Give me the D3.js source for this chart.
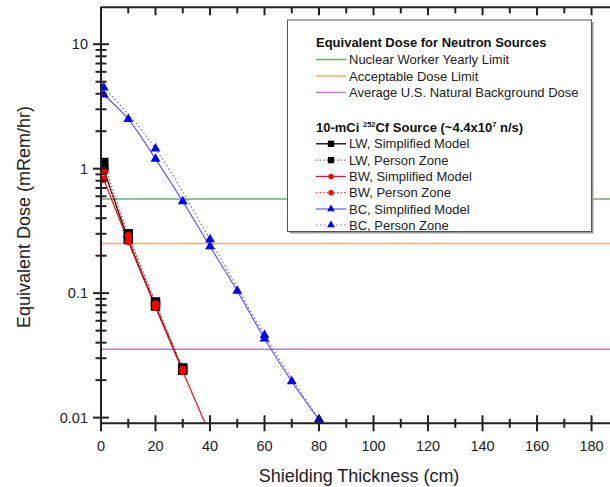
<!DOCTYPE html>
<html><head><meta charset="utf-8">
<script src="https://cdn.jsdelivr.net/npm/d3@7"></script>
<style>body{margin:0;background:#fff}svg{display:block;font-family:"Liberation Sans",Arial,sans-serif}</style>
</head><body><svg id="c" width="610" height="487"></svg>
<script>
// ---- data ----
const thicknessLW = [1, 10, 20, 30];
const lwSimplified = [1.0, 0.27, 0.079, 0.024];
const lwPersonZone = [1.12, 0.30, 0.085, 0.025];
const thicknessBW = [1, 10, 20, 30, 40];
const bwSimplified = [0.82, 0.26, 0.077, 0.0235, 0.0073];
const thicknessBWPZ = [1, 10, 20, 30];
const bwPersonZone = [0.96, 0.29, 0.082, 0.0245];
const thicknessBCS = [1, 10, 20, 30, 40, 50, 60, 70, 80];
const bcSimplified = [3.93, 2.5, 1.2, 0.546, 0.237, 0.104, 0.043, 0.0195, 0.0096];
const thicknessBCPZ = [1, 20, 40, 60, 80];
const bcPersonZone = [4.5, 1.45, 0.27, 0.046, 0.0097];
const refNames = ["Nuclear Worker Yearly Limit", "Acceptable Dose Limit", "Average U.S. Natural Background Dose"];
const refValues = [0.57, 0.25, 0.0354];
const xTicks = [0, 20, 40, 60, 80, 100, 120, 140, 160, 180];
const yTicks = [0.01, 0.1, 1, 10];
const yTickLabels = ["0.01", "0.1", "1", "10"];

const svg = d3.select("#c");
const L = 101, R = 618.8, T = 7.3, B = 423.3;
const x = d3.scaleLinear().domain([0, 190]).range([L, R]);
const y = d3.scaleLog().domain([0.009, 19.8]).range([B, T]);
const axisColor = "#222";

svg.append("defs").append("clipPath").attr("id", "clip")
  .append("rect").attr("x", L).attr("y", T).attr("width", R - L).attr("height", B - T);
const plot = svg.append("g").attr("clip-path", "url(#clip)");

// reference lines
const refColors = ["#62b862", "#ffad5c", "#c27ac9"];
refValues.forEach((v, i) => {
  plot.append("line").attr("x1", L).attr("x2", R).attr("y1", y(v)).attr("y2", y(v))
    .attr("stroke", refColors[i]).attr("stroke-width", 1.5);
});

const series = [
  {xs: thicknessLW, ys: lwSimplified, color: "#000", dash: null, marker: "square", lw: 1.3},
  {xs: thicknessLW, ys: lwPersonZone, color: "#777", mcolor: "#000", dash: "1.5,2", marker: "square", lw: 1.2},
  {xs: thicknessBW, ys: bwSimplified, color: "#e8141e", mcolor: "#ff0000", dash: null, marker: "circle", lw: 1.2},
  {xs: thicknessBWPZ, ys: bwPersonZone, color: "#ff4040", mcolor: "#ff0000", dash: "1.5,2", marker: "circle", lw: 1.2},
  {xs: thicknessBCS, ys: bcSimplified, color: "#5a5aff", mcolor: "#0000ff", dash: null, marker: "triangle", lw: 1.2},
  {xs: thicknessBCPZ, ys: bcPersonZone, color: "#6a6aff", mcolor: "#0000ff", dash: "1.5,2.5", marker: "triangle", lw: 1.2}
];
const lineGen = d3.line().x(d => x(d[0])).y(d => y(d[1])).curve(d3.curveMonotoneX);
const symSquare = d3.symbol().type(d3.symbolSquare).size(90);
const symCircle = d3.symbol().type(d3.symbolCircle).size(40);
const symTri = d3.symbol().type(d3.symbolTriangle).size(42);
function symFor(m){ return m === "square" ? symSquare : m === "circle" ? symCircle : symTri; }

series.forEach(s => {
  const pts = s.xs.map((v, i) => [v, s.ys[i]]);
  plot.append("path").attr("d", lineGen(pts)).attr("fill", "none")
    .attr("stroke", s.color).attr("stroke-width", s.lw).attr("stroke-dasharray", s.dash);
});
series.forEach(s => {
  const pts = s.xs.map((v, i) => [v, s.ys[i]]);
  plot.selectAll(null).data(pts).enter().append("path")
    .attr("d", symFor(s.marker)())
    .attr("transform", d => `translate(${x(d[0])},${y(d[1])})`)
    .attr("fill", s.mcolor || s.color);
});

// axes frame
const ax = svg.append("g").attr("stroke", axisColor).attr("stroke-width", 2);
ax.append("line").attr("x1", L).attr("x2", R + 1).attr("y1", B).attr("y2", B);
ax.append("line").attr("x1", L).attr("x2", R + 1).attr("y1", T).attr("y2", T);
ax.append("line").attr("x1", L).attr("x2", L).attr("y1", T).attr("y2", B + 1);
ax.append("line").attr("x1", R).attr("x2", R).attr("y1", T).attr("y2", B + 1);

// x ticks
const xMinor = d3.range(10, 190, 20);
xTicks.forEach(v => {
  ax.append("line").attr("x1", x(v)).attr("x2", x(v)).attr("y1", B - 8).attr("y2", B + 8);
  ax.append("line").attr("x1", x(v)).attr("x2", x(v)).attr("y1", T).attr("y2", T + 8);
});
xMinor.forEach(v => {
  ax.append("line").attr("x1", x(v)).attr("x2", x(v)).attr("y1", B - 4.5).attr("y2", B + 4.5);
  ax.append("line").attr("x1", x(v)).attr("x2", x(v)).attr("y1", T).attr("y2", T + 6);
});
// y ticks
yTicks.forEach(v => {
  ax.append("line").attr("x1", L - 8).attr("x2", L + 8).attr("y1", y(v)).attr("y2", y(v));
  ax.append("line").attr("x1", R - 8).attr("x2", R).attr("y1", y(v)).attr("y2", y(v));
});
const yMinor = [];
[0.01, 0.1, 1, 10].forEach(d => { for (let k = 2; k <= 9; k++) { const v = d * k; if (v < 19.8) yMinor.push(v); } });
yMinor.forEach(v => {
  ax.append("line").attr("x1", L - 5.5).attr("x2", L + 5.5).attr("y1", y(v)).attr("y2", y(v));
  ax.append("line").attr("x1", R - 5).attr("x2", R).attr("y1", y(v)).attr("y2", y(v));
});

// tick labels
svg.append("g").selectAll("text").data(xTicks).enter().append("text")
  .attr("x", d => x(d)).attr("y", 450.5).attr("text-anchor", "middle")
  .attr("font-size", 14.5).attr("fill", "#222").text(d => d);
svg.append("g").selectAll("text").data(yTicks).enter().append("text")
  .attr("x", 88).attr("y", d => y(d) + 5).attr("text-anchor", "end")
  .attr("font-size", 14.5).attr("fill", "#222").text((d, i) => yTickLabels[i]);

// axis titles
svg.append("text").attr("x", 359).attr("y", 482).attr("text-anchor", "middle")
  .attr("font-size", 18).attr("fill", "#222").text("Shielding Thickness (cm)");
svg.append("text").attr("transform", "translate(30,217) rotate(-90)").attr("text-anchor", "middle")
  .attr("font-size", 18).attr("fill", "#222").text("Equivalent Dose (mRem/hr)");

// legend
const lg = svg.append("g");
const bx = 287.5, by = 20, bw = 304, bh = 211.5;
lg.append("rect").attr("x", bx + 2).attr("y", by + 2).attr("width", bw).attr("height", bh).attr("fill", "#999");
lg.append("rect").attr("x", bx).attr("y", by).attr("width", bw).attr("height", bh)
  .attr("fill", "#fff").attr("stroke", "#555").attr("stroke-width", 1);
const sx0 = 316, sx1 = 346, tx = 349, fs = 13;
lg.append("text").attr("x", sx0).attr("y", 46.7).attr("font-size", fs).attr("font-weight", "bold")
  .attr("fill", "#111").text("Equivalent Dose for Neutron Sources");
const refY = [64, 80.5, 97];
refNames.forEach((n, i) => {
  lg.append("line").attr("x1", sx0).attr("x2", sx1).attr("y1", refY[i] - 4.5).attr("y2", refY[i] - 4.5)
    .attr("stroke", refColors[i]).attr("stroke-width", 1.5);
  lg.append("text").attr("x", tx).attr("y", refY[i]).attr("font-size", fs).attr("fill", "#222").text(n);
});
const t2 = lg.append("text").attr("x", sx0).attr("y", 131.7).attr("font-size", fs).attr("font-weight", "bold").attr("fill", "#111");
t2.append("tspan").text("10-mCi ");
t2.append("tspan").attr("font-size", 7.5).attr("dy", -5).text("252");
t2.append("tspan").attr("dy", 5).text("Cf Source (~4.4x10");
t2.append("tspan").attr("font-size", 7.5).attr("dy", -5).text("7");
t2.append("tspan").attr("dy", 5).text(" n/s)");
const serNames = ["LW, Simplified Model", "LW, Person Zone", "BW, Simplified Model", "BW, Person Zone", "BC, Simplified Model", "BC, Person Zone"];
const legY = [148.3, 164.6, 180.9, 197.2, 213.5, 229.5];
const legSize = {square: 40, circle: 22, triangle: 26};
series.forEach((s, i) => {
  const yy = legY[i] - 4.5;
  lg.append("line").attr("x1", sx0).attr("x2", sx1).attr("y1", yy).attr("y2", yy)
    .attr("stroke", s.color).attr("stroke-width", s.lw).attr("stroke-dasharray", s.dash);
  const sym = d3.symbol().type(s.marker === "square" ? d3.symbolSquare : s.marker === "circle" ? d3.symbolCircle : d3.symbolTriangle).size(legSize[s.marker]);
  lg.append("path").attr("d", sym()).attr("transform", `translate(${(sx0 + sx1) / 2},${yy})`).attr("fill", s.mcolor || s.color);
  lg.append("text").attr("x", tx).attr("y", legY[i]).attr("font-size", fs).attr("fill", "#222").text(serNames[i]);
});
</script></body></html>
